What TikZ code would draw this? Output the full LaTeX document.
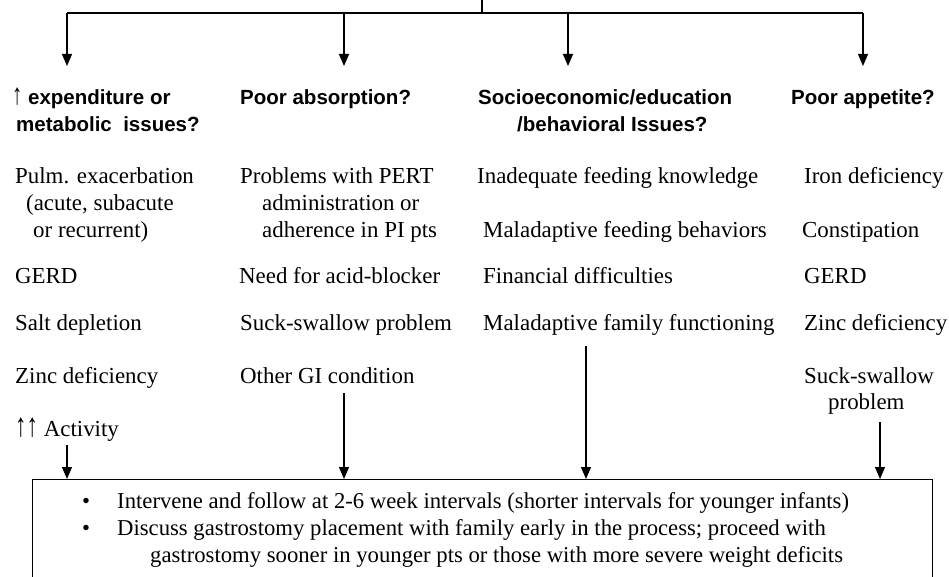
\documentclass[tikz,border=0pt]{standalone}
\usepackage{graphicx}
\usepackage{fontspec}
\setmainfont{Liberation Serif}
\newfontfamily\hdfont{Liberation Sans}
\newcommand{\uparr}{\scalebox{1}[1.45]{↑}}
\usetikzlibrary{arrows.meta}
\begin{document}
\begin{tikzpicture}[x=1pt,y=-1pt,
  txt/.style={anchor=base west,inner sep=0pt,font=\fontsize{22.9}{26}\selectfont},
  hd/.style={anchor=base west,inner sep=0pt,font=\hdfont\bfseries\fontsize{20.5}{26}\selectfont},
  bx/.style={anchor=base west,inner sep=0pt,font=\fontsize{22.7}{26}\selectfont},
  ln/.style={line width=1.2pt},
  arr/.style={ln,-{Triangle[length=12pt,width=10pt]}}]
\clip (0,0) rectangle (949,577);
\fill[white] (0,0) rectangle (949,577);
% headers
\node[hd] (h1a) at (12,105) {{\mdseries\uparr} expenditure or};
\node[hd] (h1b) at (16,132) {metabolic\ \ issues?};
\node[hd] (h2) at (240,105) {Poor absorption?};
\node[hd] (h3a) at (478,105) {Socioeconomic/education};
\node[hd] (h3b) at (517,132) {/behavioral Issues?};
\node[hd] (h4) at (791,105) {Poor appetite?};
% column 1
\node[txt] (a1) at (15,184) {Pulm. exacerbation};
\node[txt] (a1b) at (26,211) {(acute, subacute};
\node[txt] (a1c) at (33,237) {or recurrent)};
\node[txt] (a2) at (15,283) {GERD};
\node[txt] (a3) at (15,330) {Salt depletion};
\node[txt] (a4) at (15,383) {Zinc deficiency};
\node[txt] (a5) at (15,436) {\uparr\uparr\ Activity};
% column 2
\node[txt] (b1) at (240,184) {Problems with PERT};
\node[txt] (b1b) at (262,211) {administration or};
\node[txt] (b1c) at (262,237) {adherence in PI pts};
\node[txt] (b2) at (239,283) {Need for acid-blocker};
\node[txt] (b3) at (240,330) {Suck-swallow problem};
\node[txt] (b4) at (240,383) {Other GI condition};
% column 3
\node[txt] (c1) at (477,184) {Inadequate feeding knowledge};
\node[txt] (c2) at (483,237) {Maladaptive feeding behaviors};
\node[txt] (c3) at (483,283) {Financial difficulties};
\node[txt] (c4) at (483,330) {Maladaptive family functioning};
% column 4
\node[txt] (d1) at (804,184) {Iron deficiency};
\node[txt] (d2) at (802,237) {Constipation};
\node[txt] (d3) at (804,283) {GERD};
\node[txt] (d4) at (804,330) {Zinc deficiency};
\node[txt] (d5) at (804,383) {Suck-swallow};
\node[txt] (d5b) at (828,409) {problem};
% bottom box
\node[draw,line width=1.2pt,anchor=north west,minimum width=900pt,minimum height=130pt,inner sep=0pt] (box) at (32,479) {};
\node[bx] (u1) at (82,508) {•};
\node[bx] (l1) at (117,508) {Intervene and follow at 2-6 week intervals (shorter intervals for younger infants)};
\node[bx] (u2) at (82,535) {•};
\node[bx] (l2) at (117,535) {Discuss gastrostomy placement with family early in the process; proceed with};
\node[bx] (l3) at (150,562) {gastrostomy sooner in younger pts or those with more severe weight deficits};
% top connectors
\coordinate (top) at (482,0);
\coordinate (join) at (482,13);
\coordinate (t1) at (67,66);
\coordinate (t2) at (344,66);
\coordinate (t3) at (568,66);
\coordinate (t4) at (863,66);
\draw[ln] (top) -- (join);
\draw[ln] (t1 |- join) -- (t4 |- join);
\foreach \t in {t1,t2,t3,t4} \draw[arr] (\t |- join) -- (\t);
% bottom connectors
\coordinate (s1) at (67,445);
\coordinate (s2) at (344,393);
\coordinate (s3) at (586,346);
\coordinate (s4) at (880,422);
\foreach \s in {s1,s2,s3,s4} \draw[arr] (\s) -- (\s |- box.north);
\end{tikzpicture}
\end{document}
